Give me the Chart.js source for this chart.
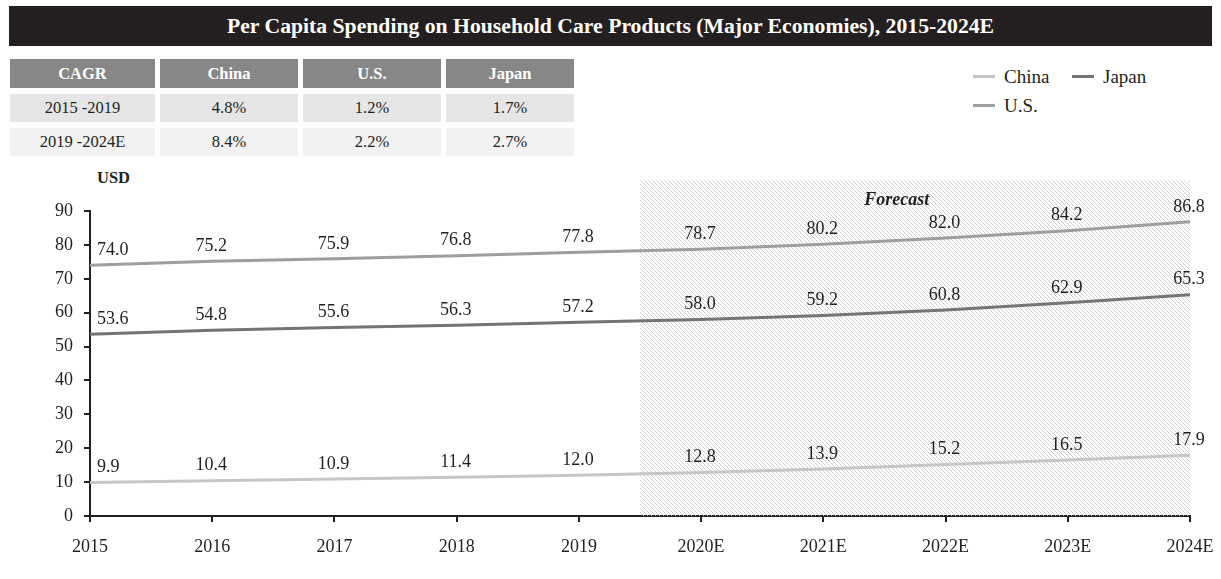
<!DOCTYPE html>
<html>
<head>
<meta charset="utf-8">
<script src="https://cdn.jsdelivr.net/npm/chart.js@4.4.1/dist/chart.umd.min.js"></script>
<style>
  html, body { margin: 0; padding: 0; background: #fff; }
  body { width: 1221px; height: 579px; position: relative; overflow: hidden; font-family: "Liberation Serif", "Times New Roman", serif; color: #231f20; }
  #title { position: absolute; left: 9px; top: 6px; width: 1203px; height: 40px; background: #231f20; color: #fff; font-weight: bold; font-size: 21.7px; line-height: 40px; text-align: center; }
  #cagr { position: absolute; left: 10px; top: 59px; border-collapse: separate; border-spacing: 5px 0; margin-left: -5px; }
  #cagr th, #cagr td { font-size: 16.5px; text-align: center; padding: 0; }
  #cagr th { background: #878787; color: #fff; height: 29px; }
  #cagr td { height: 28px; }
  #cagr tr.r1 td { background: #e6e6e7; }
  #cagr tr.r2 td { background: #f2f2f2; }
  #cagr tr.gap td { height: 6px; background: none; }
  #usd { position: absolute; left: 97px; top: 168px; font-weight: bold; font-size: 16.5px; }
  #legend { position: absolute; left: 973px; top: 66px; width: 220px; }
  .item { position: absolute; font-size: 19px; white-space: nowrap; }
  .item span.sw { display: inline-block; width: 22px; height: 3px; vertical-align: middle; margin-right: 9px; position: relative; top: -2px; }
  #chart { position: absolute; left: 0; top: 0; }
</style>
</head>
<body>
<div id="title">Per Capita Spending on Household Care Products (Major Economies), 2015-2024E</div>
<table id="cagr"></table>
<div id="usd">USD</div>
<div id="legend"></div>
<canvas id="chart" width="1221" height="579"></canvas>
<script>
const years = ["2015", "2016", "2017", "2018", "2019", "2020E", "2021E", "2022E", "2023E", "2024E"];
const china = [9.9, 10.4, 10.9, 11.4, 12.0, 12.8, 13.9, 15.2, 16.5, 17.9];
const us = [74.0, 75.2, 75.9, 76.8, 77.8, 78.7, 80.2, 82.0, 84.2, 86.8];
const japan = [53.6, 54.8, 55.6, 56.3, 57.2, 58.0, 59.2, 60.8, 62.9, 65.3];

const cagrHeader = ["CAGR", "China", "U.S.", "Japan"];
const cagrPeriods = ["2015 -2019", "2019 -2024E"];
const cagrChina = ["4.8%", "8.4%"];
const cagrUS = ["1.2%", "2.2%"];
const cagrJapan = ["1.7%", "2.7%"];

const firstForecast = 5; // index of 2020E

// CAGR table
const colW = [145, 138, 138, 128];
let html = "<tr>" + cagrHeader.map((h, i) => `<th style="width:${colW[i]}px">${h}</th>`).join("") + "</tr>";
cagrPeriods.forEach((p, i) => {
  html += `<tr class="gap"><td colspan="4"></td></tr>`;
  html += `<tr class="r${i + 1}"><td>${p}</td><td>${cagrChina[i]}</td><td>${cagrUS[i]}</td><td>${cagrJapan[i]}</td></tr>`;
});
document.getElementById("cagr").innerHTML = html;

const colors = { China: "#c6c6c6", "U.S.": "#9e9e9e", Japan: "#747474" };

// Legend (China, Japan on first row; U.S. below)
const legendPos = [["China", 0, 0], ["Japan", 99, 0], ["U.S.", 0, 29]];
document.getElementById("legend").innerHTML = legendPos
  .map(([n, x, y]) => `<div class="item" style="left:${x}px;top:${y}px"><span class="sw" style="background:${colors[n]}"></span>${n}</div>`)
  .join("");

// Hatch pattern for the forecast area
function hatch() {
  const c = document.createElement("canvas");
  c.width = 4; c.height = 4;
  const g = c.getContext("2d");
  g.strokeStyle = "#cccccc";
  g.lineWidth = 0.9;
  g.beginPath();
  g.moveTo(0, 0); g.lineTo(4, 4);
  g.moveTo(-1, 3); g.lineTo(1, 5);
  g.moveTo(3, -1); g.lineTo(5, 1);
  g.stroke();
  return g.createPattern(c, "repeat");
}

const forecastPlugin = {
  id: "forecast",
  beforeDatasetsDraw(chart) {
    const { ctx, chartArea, scales: { x, y } } = chart;
    const left = (x.getPixelForValue(firstForecast - 1) + x.getPixelForValue(firstForecast)) / 2;
    const top = y.getPixelForValue(99);
    ctx.save();
    ctx.fillStyle = hatch();
    ctx.fillRect(left, top, chartArea.right - left, chartArea.bottom - top);
    ctx.font = "italic bold 18px 'Liberation Serif'";
    ctx.fillStyle = "#231f20";
    ctx.textAlign = "center";
    ctx.textBaseline = "middle";
    ctx.fillText("Forecast", x.getPixelForValue(6.6), y.getPixelForValue(93.2));
    ctx.restore();
  }
};

const labelPlugin = {
  id: "valueLabels",
  afterDatasetsDraw(chart) {
    const { ctx } = chart;
    ctx.save();
    ctx.font = "18px 'Liberation Serif'";
    ctx.fillStyle = "#231f20";
    ctx.textBaseline = "middle";
    chart.data.datasets.forEach((ds, i) => {
      chart.getDatasetMeta(i).data.forEach((pt, j) => {
        ctx.textAlign = j === 0 ? "left" : "center";
        const px = j === 0 ? pt.x + 7 : pt.x - 1;
        ctx.fillText(ds.data[j].toFixed(1), px, pt.y - 15);
      });
    });
    ctx.restore();
  }
};

const axisFont = { family: "'Liberation Serif'", size: 18 };

new Chart(document.getElementById("chart"), {
  type: "line",
  data: {
    labels: years,
    datasets: [
      { label: "China", data: china, borderColor: colors.China },
      { label: "U.S.", data: us, borderColor: colors["U.S."] },
      { label: "Japan", data: japan, borderColor: colors.Japan }
    ].map(d => Object.assign(d, { borderWidth: 3, pointRadius: 0, tension: 0, fill: false }))
  },
  options: {
    responsive: false,
    animation: false,
    layout: { padding: { top: 211, right: 31, left: 0, bottom: 0 } },
    plugins: { legend: { display: false }, tooltip: { enabled: false } },
    scales: {
      x: {
        offset: false,
        grid: { drawOnChartArea: false, drawTicks: true, tickLength: 6, color: "#231f20", lineWidth: 2 },
        border: { color: "#231f20", width: 2 },
        ticks: { font: axisFont, color: "#231f20", padding: 14, maxRotation: 0 },
        afterFit(s) { s.height = 63; s.paddingLeft = 0; s.paddingRight = 0; }
      },
      y: {
        min: 0, max: 90,
        grid: { drawOnChartArea: false, drawTicks: true, tickLength: 6, color: "#231f20", lineWidth: 2 },
        border: { color: "#231f20", width: 2 },
        ticks: { stepSize: 10, font: axisFont, color: "#231f20", padding: 11 },
        afterFit(s) { s.width = 90; s.paddingTop = 0; s.paddingBottom = 0; }
      }
    }
  },
  plugins: [forecastPlugin, labelPlugin]
});
</script>
</body>
</html>
